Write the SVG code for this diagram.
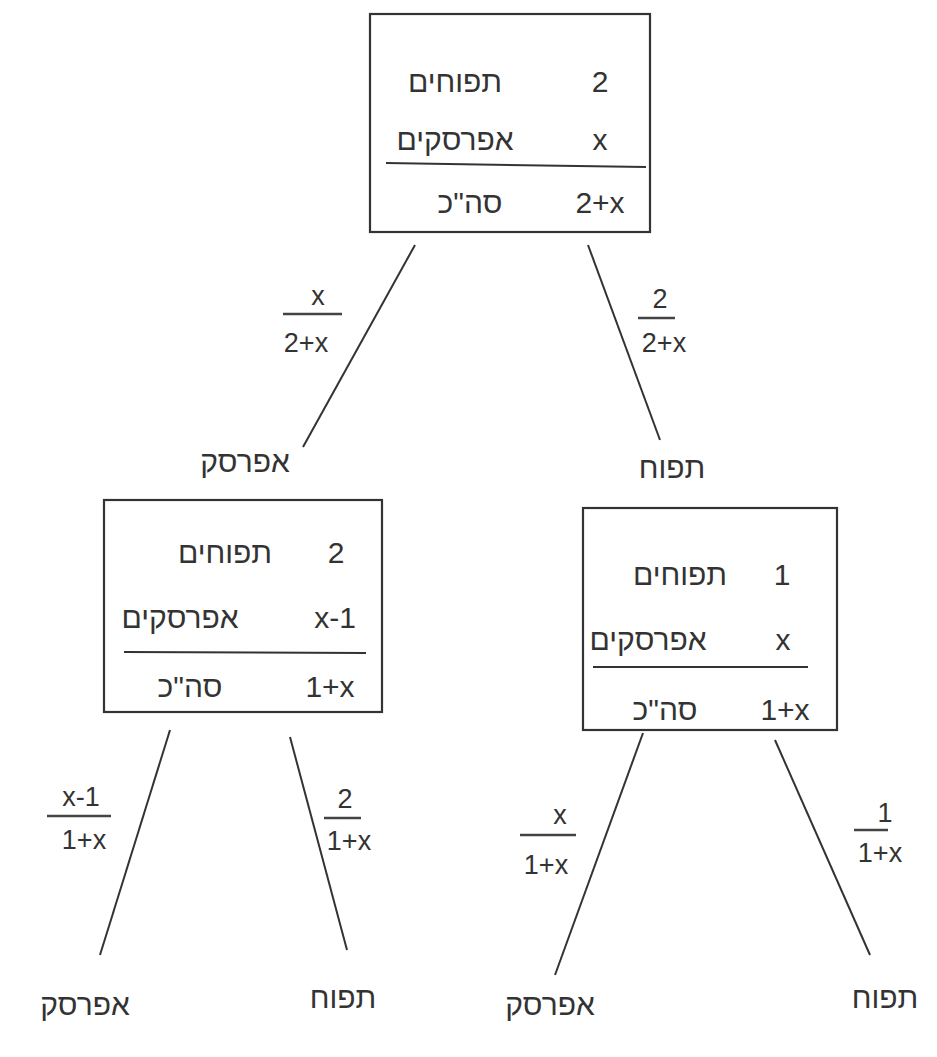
<svg xmlns="http://www.w3.org/2000/svg" width="937" height="1057" viewBox="0 0 937 1057">
<style>
.box{fill:none;stroke:#333;stroke-width:2.2}
.sep{stroke:#333;stroke-width:2}
.edge{stroke:#333;stroke-width:2;fill:none}
.bar{stroke:#444;stroke-width:2.5}
text{font-family:"Liberation Sans","DejaVu Sans",sans-serif;fill:#333;text-anchor:middle}
.t{font-size:30px}
.f{font-size:27px}
</style>
<rect width="937" height="1057" fill="#fff"/>
<g id="connectors">
<line class="edge" x1="415" y1="245" x2="303" y2="447"/>
<line class="edge" x1="588" y1="245" x2="660" y2="440"/>
<line class="edge" x1="170" y1="730" x2="100" y2="955"/>
<line class="edge" x1="290" y1="737" x2="347" y2="950"/>
<line class="edge" x1="643" y1="733" x2="555" y2="975"/>
<line class="edge" x1="775" y1="740" x2="870" y2="955"/>
<g id="edge-labels">
<text class="f" x="318" y="305">x</text><line class="bar" x1="283" y1="314" x2="342" y2="314"/><text class="f" x="306" y="352">2+x</text>
<text class="f" x="660" y="308">2</text><line class="bar" x1="638" y1="318" x2="675" y2="318"/><text class="f" x="664" y="352">2+x</text>
<text class="f" x="81" y="806">x-1</text><line class="bar" x1="47" y1="816" x2="111" y2="816"/><text class="f" x="84" y="849">1+x</text>
<text class="f" x="345" y="808">2</text><line class="bar" x1="324" y1="818" x2="361" y2="818"/><text class="f" x="349" y="850">1+x</text>
<text class="f" x="560" y="824">x</text><line class="bar" x1="520" y1="835" x2="576" y2="835"/><text class="f" x="546" y="874">1+x</text>
<text class="f" x="885" y="822">1</text><line class="bar" x1="854" y1="830" x2="888" y2="830"/><text class="f" x="880" y="862">1+x</text>
</g>
</g>
<g id="root">
<rect class="box" x="370" y="14" width="280" height="218"/>
<text class="t" x="455" y="92">תפוחים</text><text class="t" x="600" y="92">2</text>
<text class="t" x="455" y="150">אפרסקים</text><text class="t" x="600" y="150">x</text>
<line class="sep" x1="386" y1="163" x2="646" y2="167"/>
<text class="t" x="470" y="213">סה"כ</text><text class="t" x="600" y="213">2+x</text>
</g>
<g id="peach1">
<text class="t" x="245" y="472">אפרסק</text>
<rect class="box" x="104" y="500" width="278" height="212"/>
<text class="t" x="225" y="563">תפוחים</text><text class="t" x="336" y="563">2</text>
<text class="t" x="180" y="628">אפרסקים</text><text class="t" x="335" y="628">x-1</text>
<line class="sep" x1="124" y1="652" x2="366" y2="653"/>
<text class="t" x="190" y="697">סה"כ</text><text class="t" x="330" y="697">1+x</text>
</g>
<g id="apple1">
<text class="t" x="672" y="478">תפוח</text>
<rect class="box" x="583" y="508" width="254" height="222"/>
<text class="t" x="680" y="585">תפוחים</text><text class="t" x="782" y="585">1</text>
<text class="t" x="648" y="650">אפרסקים</text><text class="t" x="783" y="650">x</text>
<line class="sep" x1="593" y1="667" x2="808" y2="667"/>
<text class="t" x="665" y="720">סה"כ</text><text class="t" x="785" y="720">1+x</text>
</g>
<g id="leaf-peach-peach"><text class="t" x="85" y="1015">אפרסק</text></g>
<g id="leaf-peach-apple"><text class="t" x="343" y="1008">תפוח</text></g>
<g id="leaf-apple-peach"><text class="t" x="550" y="1015">אפרסק</text></g>
<g id="leaf-apple-apple"><text class="t" x="885" y="1008">תפוח</text></g>
</svg>
